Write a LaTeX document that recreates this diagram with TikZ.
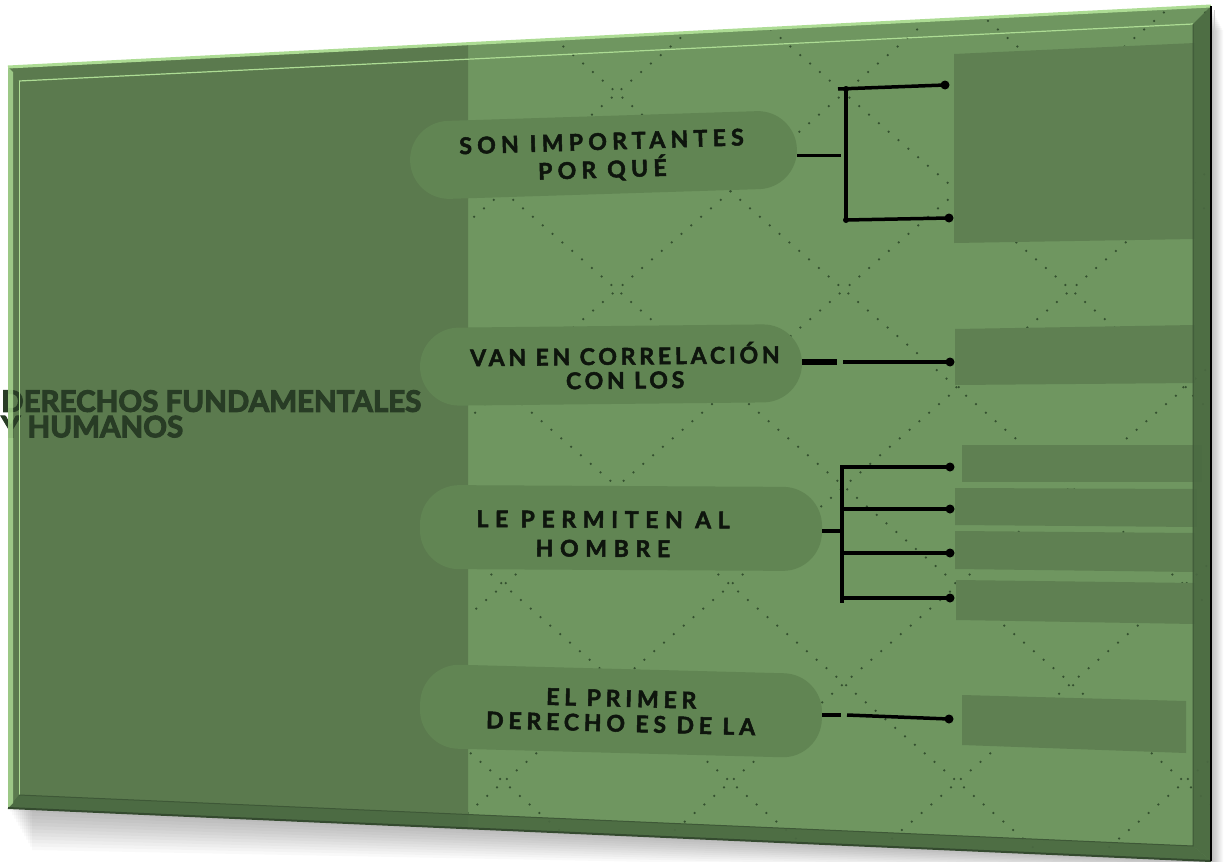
\documentclass[tikz,border=0pt]{standalone}
\usepackage{fontspec}
\newfontfamily\pfA{Lato}[LetterSpace=23, BoldFeatures={FakeBold=2.2}]
\newfontfamily\pfB{Lato}[LetterSpace=16.5, BoldFeatures={FakeBold=2.2}]
\newfontfamily\pfC{Lato}[LetterSpace=29, BoldFeatures={FakeBold=2.2}]
\newfontfamily\pfD{Lato}[LetterSpace=21, BoldFeatures={FakeBold=2.2}]
\newfontfamily\titlefont{Lato}[BoldFeatures={FakeBold=3.5}]
\definecolor{lightg}{HTML}{6F9660}
\definecolor{darkp}{HTML}{5B7A4E}
\definecolor{pillc}{HTML}{618553}
\definecolor{boxc}{HTML}{5F8052}
\definecolor{dotc}{HTML}{34502F}
\definecolor{textc}{HTML}{0E150D}
\definecolor{titlec}{HTML}{283C25}
\definecolor{bevlight}{HTML}{ADDC94}
\definecolor{bevdark}{HTML}{4B6A42}
\definecolor{bevline}{HTML}{3E5837}
\definecolor{bevbottom}{HTML}{344A2F}
\tikzset{
  pill/.style={rectangle, fill=pillc, rounded corners=39pt, inner sep=0pt},
  ptext/.style={text=textc, align=center, inner sep=0pt},
  titletext/.style={font=\titlefont\bfseries\fontsize{29.5}{25.5}\selectfont, text=titlec, align=left, inner sep=0pt},
  dotline/.style={draw=dotc, line width=2.5pt, line cap=round, dash pattern=on 0pt off 13pt},
  conn/.style={draw=black, line width=3.5pt},
  barline/.style={draw=black, line width=4.5pt},
  enddot/.style={circle, fill=black, minimum size=9pt, inner sep=0pt},
  cornerdot/.style={circle, fill=black, minimum size=6pt, inner sep=0pt},
}
\begin{document}
\begin{tikzpicture}[x=1pt,y=-1pt]
\useasboundingbox (0,0) rectangle (1229,862);
\fill[white] (0,0) rectangle (1229,862);
% shadow
\foreach \k in {1,...,12}{
  \fill[black,opacity=0.025] (8+2*\k,67+2*\k) -- (1211+\k,6+2*\k) -- (1211+\k,861+\k) -- (8+2*\k,808+3.5*\k) -- cycle;
}
% board
\fill[lightg] (8,67) -- (1211,6) -- (1211,861) -- (8,808) -- cycle;
\fill[darkp] (8,67) -- (468,43.7) -- (468,828.3) -- (8,808) -- cycle;
% dotted lattice
\begin{scope}
\clip (468,43.7) -- (1211,6) -- (1211,861) -- (468,828.3) -- cycle;
\foreach \k in {-7,...,9}{
  \pgfmathsetmacro{\xo}{617+227*\k}
  \draw[dotline] (\xo-250,93-216.8) -- (\xo+1100,93+953.7);
  \draw[dotline] (\xo+250,93-216.8) -- (\xo-1100,93+953.7);
}
\end{scope}
% right boxes
\fill[boxc] (954,54) -- (1195,43) -- (1195,239) -- (954,243) -- cycle;
\fill[boxc] (955,329) -- (1195,325) -- (1195,383) -- (955,385) -- cycle;
\fill[boxc] (962,445) -- (1202,445) -- (1202,482) -- (962,482) -- cycle;
\fill[boxc] (955,488) -- (1197,489) -- (1197,527) -- (955,525) -- cycle;
\fill[boxc] (955,531) -- (1195,533) -- (1195,572) -- (955,569) -- cycle;
\fill[boxc] (956,580) -- (1195,583) -- (1195,624) -- (956,620) -- cycle;
\fill[boxc] (962,695) -- (1186,701) -- (1186,753) -- (962,745) -- cycle;
% pills
\node[pill, minimum width=387pt, minimum height=78pt, rotate=1.8] (p1) at (603.5,155) {};
\node[pill, minimum width=382pt, minimum height=78pt, rotate=0.6] (p2) at (611,365) {};
\node[pill, minimum width=402pt, minimum height=84pt, rotate=-0.3] (p3) at (621,528) {};
\node[pill, minimum width=402pt, minimum height=84pt, rotate=-1.5] (p4) at (621,711) {};
\node[ptext, rotate=1.8, font=\pfA\bfseries\fontsize{23}{28}\selectfont] (t1) at (602,157) {SON IMPORTANTES\\POR QUÉ};
\node[ptext, rotate=0.6, font=\pfB\bfseries\fontsize{23}{24}\selectfont] (t2) at (625,366) {VAN EN CORRELACIÓN\\CON LOS};
\node[ptext, rotate=-0.3, font=\pfC\bfseries\fontsize{23}{29}\selectfont] (t3) at (603,534) {LE PERMITEN AL\\HOMBRE};
\node[ptext, rotate=-1.5, font=\pfD\bfseries\fontsize{23}{25}\selectfont] (t4) at (621,711) {EL PRIMER\\DERECHO ES DE LA};
% title
\node[titletext, anchor=north west] (title) at (1,390) {DERECHOS FUNDAMENTALES\\Y HUMANOS};
% connector 1
\coordinate (j1) at (841,155);
\coordinate (b1t) at (846,89);
\coordinate (b1b) at (846,220);
\coordinate (h1a) at (838,89);
\node[enddot] (d1a) at (945,85) {};
\node[enddot] (d1b) at (949,218) {};
\draw[conn, line width=3pt] (p1.east |- j1) -- (j1);
\draw[barline] (b1t) -- (b1b);
\draw[conn] (h1a) -- (d1a.center);
\draw[conn] (b1b) -- (d1b.center);
\node[cornerdot] (k1a) at (b1t) {};
\node[cornerdot] (k1b) at (b1b) {};
% connector 2
\coordinate (c2a) at (837,362);
\coordinate (c2b) at (843,362);
\node[enddot] (d2) at (950,362) {};
\draw[conn, line width=6pt] (p2.east |- c2a) -- (c2a);
\draw[conn] (c2b) -- (d2.center);
% connector 3
\coordinate (j3) at (842,531);
\coordinate (b3t) at (842,465);
\coordinate (b3b) at (842,603);
\node[enddot] (d3a) at (950,467) {};
\node[enddot] (d3b) at (950,509) {};
\node[enddot] (d3c) at (950,553) {};
\node[enddot] (d3d) at (950,598) {};
\draw[conn, line width=4pt] (p3.east |- j3) -- (j3);
\draw[barline] (b3t) -- (b3b);
\draw[conn] (b3t |- d3a) -- (d3a.center);
\draw[conn] (b3t |- d3b) -- (d3b.center);
\draw[conn] (b3t |- d3c) -- (d3c.center);
\draw[conn] (b3t |- d3d) -- (d3d.center);
% connector 4
\coordinate (c4a) at (841,715);
\coordinate (c4b) at (847,715);
\node[enddot] (d4) at (949,719) {};
\draw[conn, line width=4.5pt] (p4.east |- c4a) -- (c4a);
\draw[conn] (c4b) -- (d4.center);
% bevels
\fill[bevdark,opacity=0.9] (19,795) -- (1193,846) -- (1211,861) -- (8,808) -- cycle;
\fill[bevdark,opacity=0.9] (1193,24) -- (1211,6) -- (1211,861) -- (1193,846) -- cycle;
\fill[bevlight,opacity=0.8] (8,67) -- (13,72) -- (13,803) -- (8,808) -- cycle;
\draw[bevlight,line width=3pt] (8,67) -- (1211,6);
\draw[bevlight,line width=1.2pt] (19,81) -- (1193,24);
\draw[bevlight,line width=1pt] (19,81) -- (19,795);
\draw[bevline,line width=1pt] (19,795) -- (1193,846) -- (1193,24);
\draw[bevbottom,line width=2pt] (8,808) -- (1211,861);
\draw[black,line width=1.2pt] (1211,6) -- (1211,861);
\draw[gray!40,line width=1pt] (1214,10) -- (1214,858);
\end{tikzpicture}
\end{document}
